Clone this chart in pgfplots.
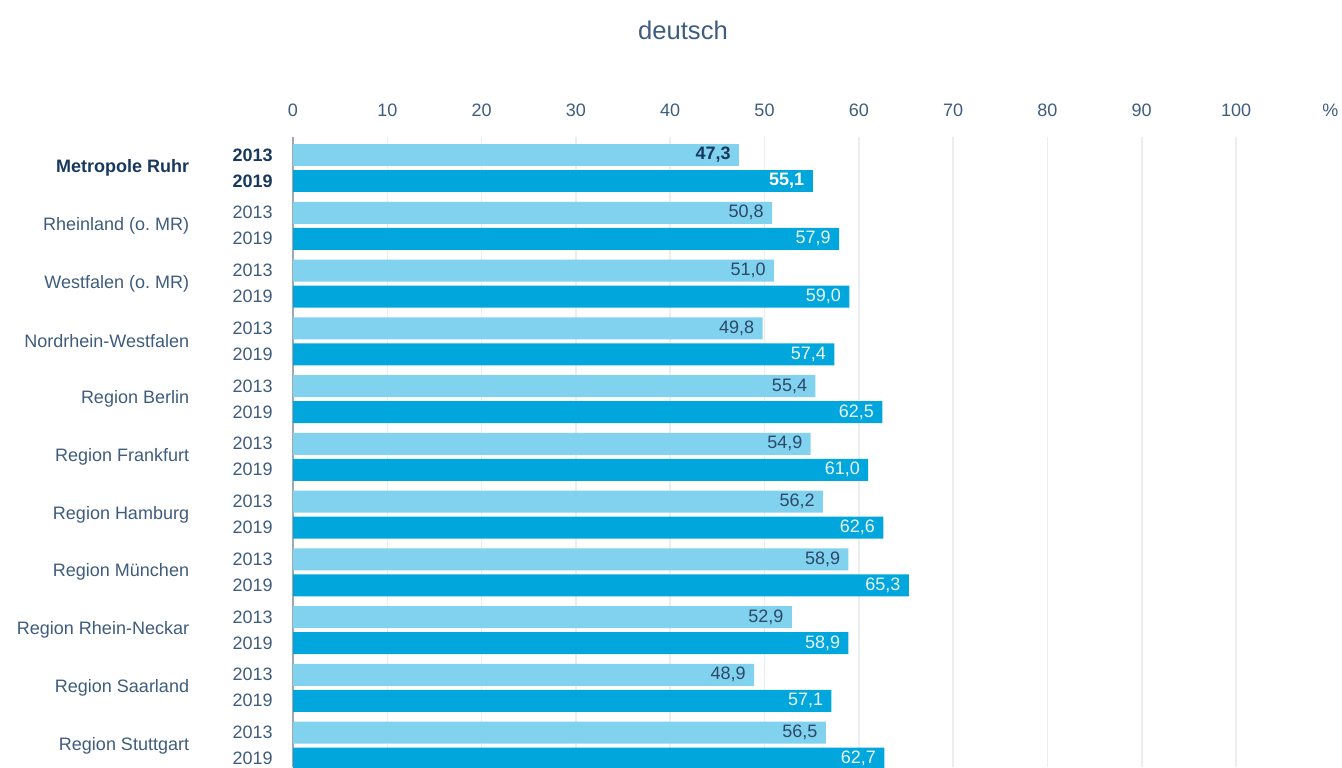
\documentclass[border=0pt]{standalone}
\usepackage{pgfplots}
\pgfplotsset{compat=1.18}
\usepackage{fontspec}
\setmainfont{Liberation Sans}
\definecolor{lightbar}{RGB}{128,210,238}
\definecolor{darkbar}{RGB}{0,166,220}
\definecolor{txt}{RGB}{62,92,125}
\definecolor{navy}{RGB}{24,56,94}
\definecolor{valdark}{RGB}{45,72,105}
\definecolor{valwhite}{RGB}{232,246,252}
\definecolor{gridc}{RGB}{236,237,241}
\definecolor{zeroc}{RGB}{160,168,178}
\newcommand\fs{\fontsize{9}{10.8}\selectfont}
\begin{document}
\begin{tikzpicture}
\path[use as bounding box] (0pt,0pt) rectangle (671pt,-383.5pt);
\clip (0pt,0pt) rectangle (671pt,-383.5pt);
\node[anchor=center, inner sep=0pt, text=txt, font=\fontsize{12.8}{14}\selectfont] at (341.5pt,-15pt) {deutsch};
\begin{axis}[
  at={(146.5pt,-383.5pt)}, anchor=south west,
  scale only axis, width=518.65pt, height=315pt,
  xmin=0, xmax=110, ymin=-0.537, ymax=10.372,
  y dir=reverse,
  clip=false,
  axis line style={draw=none},
  tick style={draw=none},
  xtick={0,10,...,100},
  extra x ticks={110}, extra x tick labels={\%},
  extra x tick style={grid=none},
  xticklabel pos=upper,
  xticklabel style={anchor=base, yshift=10.3pt, inner sep=0pt, text=txt, font=\fs},
  xmajorgrids, grid style={draw=gridc, line width=0.8pt},
  ytick={0,...,10},
  yticklabels={\textbf{\color{navy}Metropole Ruhr}, Rheinland (o.\ MR), Westfalen (o.\ MR), Nordrhein-Westfalen, Region Berlin, Region Frankfurt, Region Hamburg, Region München, Region Rhein-Neckar, Region Saarland, Region Stuttgart},
  yticklabel style={anchor=east, inner sep=0pt, xshift=-47.5pt, text=txt, font=\fs},
  /pgf/number format/assume math mode=true,
  xbar, bar width=11pt,
  point meta=x,
  nodes near coords={\pgfmathprintnumber[fixed,fixed zerofill,precision=1,use comma,assume math mode=true]{\pgfplotspointmeta}},
]
\draw[color=zeroc, line width=0.8pt] (axis cs:0,-0.537) -- (axis cs:0,10.372);
% 2013, Metropole Ruhr
\addplot[fill=lightbar, draw=none, bar shift=6.5pt,
  nodes near coords style={anchor=east, inner sep=0pt, xshift=-4pt, text=navy, font=\fs\bfseries}]
  coordinates {(47.3,0)};
% 2013, others
\addplot[fill=lightbar, draw=none, bar shift=6.5pt,
  nodes near coords style={anchor=east, inner sep=0pt, xshift=-4pt, text=valdark, font=\fs}]
  coordinates {(50.8,1) (51.0,2) (49.8,3) (55.4,4) (54.9,5) (56.2,6) (58.9,7) (52.9,8) (48.9,9) (56.5,10)};
% 2019, Metropole Ruhr
\addplot[fill=darkbar, draw=none, bar shift=-6.5pt,
  nodes near coords style={anchor=east, inner sep=0pt, xshift=-4pt, text=white, font=\fs\bfseries}]
  coordinates {(55.1,0)};
% 2019, others
\addplot[fill=darkbar, draw=none, bar shift=-6.5pt,
  nodes near coords style={anchor=east, inner sep=0pt, xshift=-4pt, text=valwhite, font=\fs}]
  coordinates {(57.9,1) (59.0,2) (57.4,3) (62.5,4) (61.0,5) (62.6,6) (65.3,7) (58.9,8) (57.1,9) (62.7,10)};
\node[anchor=east, inner sep=0pt, xshift=-10pt, yshift=6.5pt, text=navy, font=\fs\bfseries] at (axis cs:0,0) {2013};
\node[anchor=east, inner sep=0pt, xshift=-10pt, yshift=-6.5pt, text=navy, font=\fs\bfseries] at (axis cs:0,0) {2019};
\pgfplotsinvokeforeach{1,...,10}{
  \node[anchor=east, inner sep=0pt, xshift=-10pt, yshift=6.5pt, text=txt, font=\fs] at (axis cs:0,#1) {2013};
  \node[anchor=east, inner sep=0pt, xshift=-10pt, yshift=-6.5pt, text=txt, font=\fs] at (axis cs:0,#1) {2019};
}
\end{axis}
\end{tikzpicture}
\end{document}
